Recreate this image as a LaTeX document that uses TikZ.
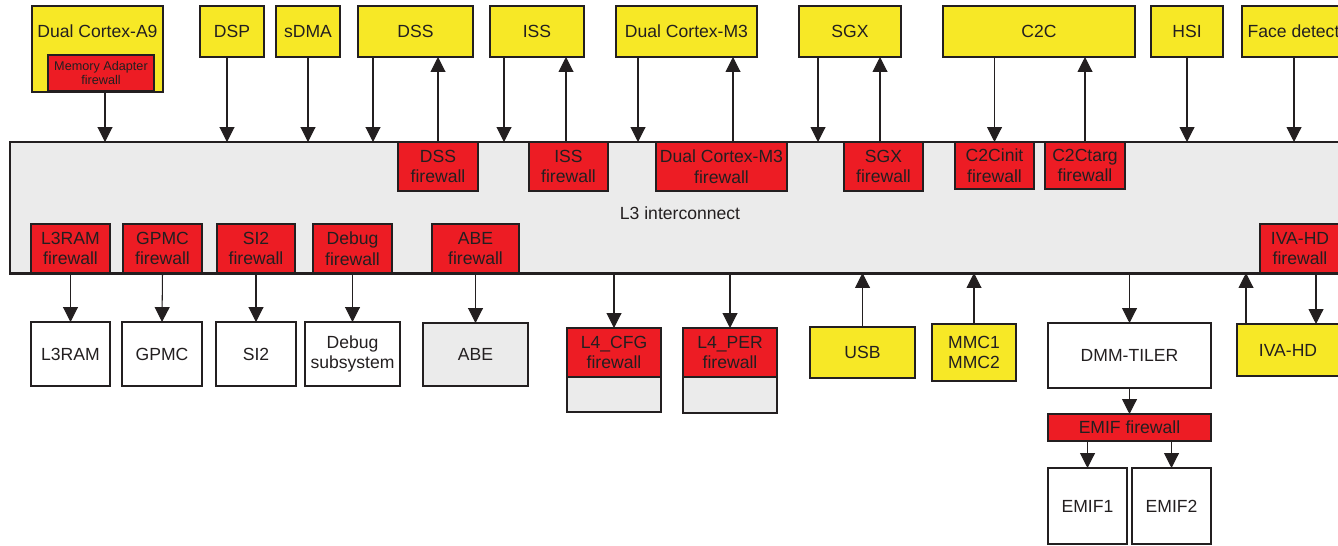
\documentclass[tikz,border=0pt]{standalone}
\usepackage{fontspec}
\setmainfont{Liberation Sans}
\usetikzlibrary{arrows.meta}
\definecolor{chipyellow}{RGB}{247,232,38}
\definecolor{fwred}{RGB}{237,28,36}
\definecolor{busgray}{RGB}{235,235,235}
\definecolor{ink}{RGB}{35,31,32}

\begin{document}
\begin{tikzpicture}[x=0.02cm,y=-0.02cm,
  box/.style={draw=ink,line width=1.1pt,inner sep=0pt,outer sep=0pt,text=ink,align=center,
    font=\fontsize{10}{11.8}\selectfont},
  span/.style args={#1/#2/#3/#4}{minimum width={(#3-#1)*0.02cm},minimum height={(#4-#2)*0.02cm},
    at={({0.5*(#1+#3)},{0.5*(#2+#4)})}},
  ini/.style={box,fill=chipyellow},
  fw/.style={box,fill=fwred},
  tgt/.style={box,fill=white},
  arr/.style={draw=ink,line width=0.6pt,-{Triangle[width=8.5pt,length=8.5pt]}}]
\useasboundingbox (0,0) rectangle (1338,545);
\clip (0,0) rectangle (1338,545);

% L3 interconnect
\node[box,fill=busgray,line width=1.7pt,span=10/142/1360/273] (l3) {};
\node[text=ink,font=\fontsize{10}{12}\selectfont] (l3lbl) at (680,213) {L3 interconnect};

% initiators
\node[ini,span=32/6/163/92] (a9) {};
\node[text=ink,font=\fontsize{10}{12}\selectfont] (a9lbl) at (97.5,31) {Dual Cortex-A9};
\node[fw,font=\fontsize{7.2}{8.2}\selectfont,span=48/55/154/91] (memfw) {Memory Adapter\\firewall};
\node[ini,span=200/6/264/57] (dsp) {DSP};
\node[ini,span=276/6/340/57] (sdma) {sDMA};
\node[ini,span=358/6/473/57] (dss) {DSS};
\node[ini,span=490/6/584/57] (iss) {ISS};
\node[ini,span=616/6/757/57] (m3) {Dual Cortex-M3};
\node[ini,span=799/6/901/57] (sgx) {SGX};
\node[ini,span=943/6/1135/57] (c2c) {C2C};
\node[ini,span=1151/6/1223/57] (hsi) {HSI};
\node[ini,span=1242/6/1345/57] (face) {Face detect};

% firewalls inside L3
\node[fw,span=398/142/478/191] (dssfw) {DSS\\firewall};
\node[fw,span=529/142/608/191] (issfw) {ISS\\firewall};
\node[fw,span=656/142/787/191] (m3fw) {Dual Cortex-M3\\firewall};
\node[fw,span=844/142/923/191] (sgxfw) {SGX\\firewall};
\node[fw,span=955/142/1034/189] (c2cifw) {C2Cinit\\firewall};
\node[fw,span=1045/142/1125/189] (c2ctfw) {C2Ctarg\\firewall};
\node[fw,span=31/224/110/273] (l3ramfw) {L3RAM\\firewall};
\node[fw,span=123/224/202/273] (gpmcfw) {GPMC\\firewall};
\node[fw,span=217/224/295/273] (si2fw) {SI2\\firewall};
\node[fw,span=313/224/392/273] (dbgfw) {Debug\\firewall};
\node[fw,span=432/224/519/273] (abefw) {ABE\\firewall};
\node[fw,span=1260/224/1340/273] (ivafw) {IVA-HD\\firewall};
\draw[draw=ink,line width=1.7pt] (l3.north west) rectangle (l3.south east);

% targets
\node[tgt,span=31/322/110/386] (l3ram) {L3RAM};
\node[tgt,span=122/322/202/386] (gpmc) {GPMC};
\node[tgt,span=216/322/296/386] (si2) {SI2};
\node[tgt,span=305/322/400/386] (dbg) {Debug\\subsystem};
\node[box,fill=busgray,span=423/323/528/386] (abe) {ABE};
\node[box,fill=busgray,span=567/328/661/412] (l4cfg) {};
\node[fw,span=567/328/661/377] (l4cfgfw) {L4\_CFG\\firewall};
\node[box,fill=busgray,span=683/328/777/413] (l4per) {};
\node[fw,span=683/328/777/377] (l4perfw) {L4\_PER\\firewall};
\node[ini,span=810/327/915/378] (usb) {USB};
\node[ini,span=932/324/1016/381] (mmc) {MMC1\\MMC2};
\node[tgt,span=1048/323/1211/388] (dmm) {DMM-TILER};
\node[fw,span=1048/414/1211/441] (emiffw) {EMIF firewall};
\node[tgt,span=1048/468/1127/544] (emif1) {EMIF1};
\node[tgt,span=1132/468/1211/544] (emif2) {EMIF2};
\node[ini,span=1237/324/1339/376] (iva) {IVA-HD};

% initiator side connectors
\draw[arr] (105,0 |- a9.south) -- (105,0 |- l3.north);
\draw[arr] (227,0 |- dsp.south) -- (227,0 |- l3.north);
\draw[arr] (sdma.south) -- (sdma.south |- l3.north);
\draw[arr] (373,0 |- dss.south) -- (373,0 |- l3.north);
\draw[arr] (dssfw.north) -- (dssfw.north |- dss.south);
\draw[arr] (504,0 |- iss.south) -- (504,0 |- l3.north);
\draw[arr] (566,0 |- issfw.north) -- (566,0 |- iss.south);
\draw[arr] (638,0 |- m3.south) -- (638,0 |- l3.north);
\draw[arr] (733,0 |- m3fw.north) -- (733,0 |- m3.south);
\draw[arr] (818,0 |- sgx.south) -- (818,0 |- l3.north);
\draw[arr] (880,0 |- sgxfw.north) -- (880,0 |- sgx.south);
\draw[arr] (c2cifw.north |- c2c.south) -- (c2cifw.north);
\draw[arr] (c2ctfw.north) -- (c2ctfw.north |- c2c.south);
\draw[arr] (hsi.south) -- (hsi.south |- l3.north);
\draw[arr] (1294,0 |- face.south) -- (1294,0 |- l3.north);

% target side connectors
\draw[arr] (l3ramfw.south) -- (l3ram.north);
\draw[arr] (gpmcfw.south) -- (gpmc.north);
\draw[arr] (si2fw.south) -- (si2.north);
\draw[arr] (dbgfw.south) -- (dbg.north);
\draw[arr] (abefw.south) -- (abe.north);
\draw[arr] (l4cfgfw.north |- l3.south) -- (l4cfgfw.north);
\draw[arr] (l4perfw.north |- l3.south) -- (l4perfw.north);
\draw[arr] (usb.north) -- (usb.north |- l3.south);
\draw[arr] (mmc.north) -- (mmc.north |- l3.south);
\draw[arr] (dmm.north |- l3.south) -- (dmm.north);
\draw[arr] (dmm.south) -- (emiffw.north);
\draw[arr] (emif1.north |- emiffw.south) -- (emif1.north);
\draw[arr] (emif2.north |- emiffw.south) -- (emif2.north);
\draw[arr] (1246,0 |- iva.north) -- (1246,0 |- l3.south);
\draw[arr] (1316,0 |- ivafw.south) -- (1316,0 |- iva.north);
\end{tikzpicture}
\end{document}
